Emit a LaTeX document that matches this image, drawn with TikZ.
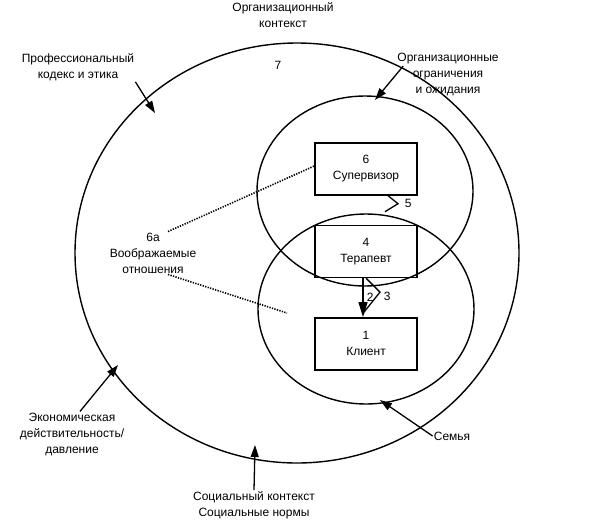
\documentclass[tikz,border=0pt]{standalone}
\usepackage{fontspec}
\setmainfont{Liberation Sans}
\usetikzlibrary{arrows.meta,positioning}

\begin{document}
\begin{tikzpicture}[
    x=1pt, y=-1pt,
    node distance=29pt,
    every node/.style={font=\fontsize{12}{16}\selectfont},
    box/.style={draw, line width=1.4pt, minimum width=102pt, minimum height=52pt, align=center, inner sep=2pt},
    lbl/.style={align=center, inner sep=1pt},
    ring/.style={line width=1.4pt},
    link/.style={line width=1.3pt},
    dots/.style={line width=1.6pt, dash pattern=on 1.3pt off 1.3pt},
    >={Triangle[length=12pt,width=8pt]}]
    \useasboundingbox (0,0) rectangle (591,522);
    \draw[ring] (297,253) ellipse [x radius=222, y radius=210];
    \draw[ring] (365,191) ellipse [x radius=108, y radius=95];
    \draw[ring] (366,309) ellipse [x radius=108, y radius=95];
    \node[lbl] (seven) at (278,65) {7};
    \node[box] (sup) at (366,169) {6\\Супервизор};
    \node[box, below=of sup] (ther) {4\\Терапевт};
    \node[box, below=39pt of ther] (cli) {1\\Клиент};
    \node[lbl] (orgctx) at (283,15) {Организационный\\контекст};
    \node[lbl] (prof) at (78,67) {Профессиональный\\кодекс и этика};
    \node[lbl] (orglim) at (448,75) {Организационные\\ограничения\\и ожидания};
    \node[lbl] (econ) at (72,434) {Экономическая\\действительность/\\давление};
    \node[lbl] (family) at (452,436) {Семья};
    \node[lbl] (social) at (254,505) {Социальный контекст\\Социальные нормы};
    \node[lbl] (imag) at (153,253) {6а\\Воображаемые\\отношения};
    \coordinate (profend) at (155,113);
    \coordinate (orglimend) at (375,100);
    \coordinate (econend) at (118,365);
    \coordinate (familyend) at (380,400);
    \coordinate (socialend) at (255,445);
    \coordinate (cliview) at (287,313);
    \draw[link, ->] (prof.south east) -- (profend);
    \draw[link, ->] ([xshift=7pt,yshift=9pt]orglim.west) -- (orglimend);
    \draw[link, ->] ([xshift=8pt]econ.north) -- (econend);
    \draw[link, ->] (family.west) -- (familyend);
    \draw[link, ->] (social.north) -- (socialend);
    \draw[dots] ([xshift=15pt]imag.north) -- ([yshift=3pt]sup.west);
    \draw[dots] ([xshift=15pt]imag.south) -- (cliview);
    \draw[link, ->, >={Triangle[length=15pt,width=9pt]}] ([xshift=-3pt]ther.south) -- node[right] {2} ([xshift=-3pt]cli.north);
    \draw[link] (ther.south) -- ++(14,14) node[right, yshift=-4pt] {3} -- ([xshift=-2pt,yshift=5pt]cli.north);
    \draw[link] ([xshift=22pt]sup.south) -- ++(10,8) node[right, xshift=3pt] {5} -- ++(-13,8);
\end{tikzpicture}
\end{document}
